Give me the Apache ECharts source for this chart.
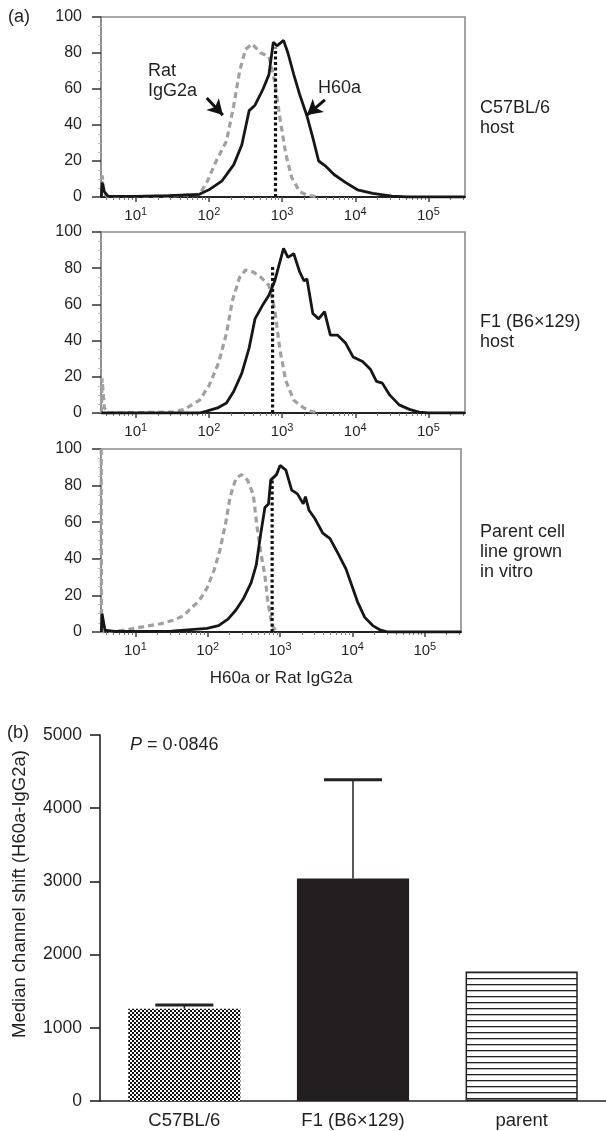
<!DOCTYPE html>
<html><head><meta charset="utf-8">
<script src="https://cdn.jsdelivr.net/npm/echarts@6/dist/echarts.min.js"></script>
<style>html,body{margin:0;padding:0;background:#fff}#c{width:606px;height:1131px}</style>
</head><body><div id="c"></div>
<script>
// ---------- DATA ----------
// x values are log10(fluorescence intensity)
const xTickExps = [1, 2, 3, 4, 5];
const yTicksA = [0, 20, 40, 60, 80, 100];
const panelLabels = ['C57BL/6\nhost', 'F1 (B6\u00d7129)\nhost', 'Parent cell\nline grown\nin vitro'];

const p1H60a = [[0.53,0],[0.54,8],[0.57,3],[0.62,0.5],[1.0,0.3],[1.45,0.8],[1.87,1.5],[2.0,4],[2.18,9],[2.34,18],[2.45,29],[2.55,48],[2.63,51],[2.74,60],[2.82,68],[2.88,86],[2.93,84],[3.02,87],[3.08,80],[3.16,68],[3.24,57],[3.34,45],[3.42,33],[3.5,20],[3.6,17],[3.71,12.5],[3.87,8],[4.03,4],[4.24,2],[4.5,0.5],[4.71,0],[5.5,0]];
const p1IgG = [[0.53,0],[0.54,12],[0.57,2],[0.62,0],[1.45,0.5],[1.87,1.5],[1.97,8],[2.1,20],[2.24,31],[2.34,51],[2.42,70],[2.5,82],[2.59,85],[2.71,80],[2.82,78],[2.9,64],[2.97,44],[3.05,24],[3.13,11],[3.24,3],[3.34,1],[3.5,0]];

const p2H60a = [[0.53,0],[1.87,0],[1.97,1],[2.13,3],[2.24,5.5],[2.34,12],[2.45,22],[2.55,36],[2.63,52],[2.74,60],[2.82,65],[2.9,73],[2.96,82],[3.02,91],[3.08,86],[3.16,88],[3.24,78],[3.3,73],[3.34,74],[3.42,55],[3.5,52],[3.58,56],[3.66,43],[3.76,43],[3.87,38.5],[3.97,31],[4.1,28.5],[4.21,24],[4.29,17.5],[4.37,16.5],[4.47,10],[4.6,4.5],[4.74,2],[4.87,0.5],[5.0,0],[5.5,0]];
const p2IgG = [[0.53,0],[0.54,19],[0.57,3],[0.62,0],[1.5,0.5],[1.66,2],[1.87,7],[2.0,15],[2.13,27.5],[2.24,44],[2.32,62],[2.42,75],[2.5,79],[2.6,78],[2.71,75],[2.82,70.5],[2.9,57],[2.97,35],[3.05,18],[3.16,7],[3.29,3],[3.39,1],[3.5,0]];

const p3H60a = [[0.53,0],[0.54,10],[0.58,1],[0.7,0.3],[1.5,0.5],[1.99,2],[2.15,3.5],[2.28,7],[2.39,12],[2.49,18],[2.6,27],[2.67,36.5],[2.73,53],[2.79,68],[2.84,70],[2.87,83],[2.95,86],[3.0,91],[3.08,88.5],[3.16,77.5],[3.24,75.5],[3.32,70],[3.35,74],[3.4,66.5],[3.48,62],[3.59,54],[3.69,51],[3.8,43],[3.91,34.5],[3.99,25.5],[4.07,16.5],[4.17,8],[4.28,3.5],[4.39,1],[4.49,0],[5.5,0]];
const p3IgG = [[0.528,100],[0.532,0],[0.71,0.3],[0.92,1.5],[1.13,3],[1.35,4.5],[1.53,6.5],[1.67,9],[1.77,13],[1.88,17],[1.99,24],[2.09,34],[2.17,45],[2.25,60],[2.31,74],[2.39,84],[2.47,86],[2.55,83],[2.63,75],[2.68,58],[2.73,44],[2.79,31],[2.83,16.5],[2.89,3.5],[2.95,0.3]];

const medianExp = [2.91, 2.87, 2.89];
const medianTop = [83, 82, 84];

const barCategories = ['C57BL/6', 'F1 (B6\u00d7129)', 'parent'];
const barMeans = [1260, 3040, 1770];
const barErrUpper = [1310, 4390, null];
const barYTicks = [0, 1000, 2000, 3000, 4000, 5000];
const barYTitle = 'Median channel shift (H60a-IgG2a)';

// ---------- STYLE / LAYOUT ----------
const FONT = '"Liberation Sans", Arial, sans-serif';
const TXT = '#231f20';
const grids = [
  {left: 101, top: 17, width: 364, height: 180},
  {left: 101, top: 232, width: 364, height: 181},
  {left: 101, top: 449, width: 360, height: 183}
];
const minorExps = [];
for (let d = 0; d <= 5; d++) for (let k = 2; k <= 9; k++) {
  const v = d + Math.log10(k);
  if (v > 0.53 && v < 5.5) minorExps.push(v);
}

function pattern(type) {
  const c = document.createElement('canvas');
  const ctx = c.getContext('2d');
  if (type === 'check') {
    c.width = 4; c.height = 4;
    ctx.fillStyle = '#fff'; ctx.fillRect(0,0,4,4);
    ctx.fillStyle = '#111';
    ctx.fillRect(0,0,2,2); ctx.fillRect(2,2,2,2);
  } else {
    c.width = 6; c.height = 6;
    ctx.fillStyle = '#fff'; ctx.fillRect(0,0,6,6);
    ctx.fillStyle = '#222'; ctx.fillRect(0,0,6,1.3);
  }
  return {image: c, repeat: 'repeat'};
}

const chart = echarts.init(document.getElementById('c'), null, {renderer: 'canvas'});

const gridOpts = [], xAxes = [], yAxes = [], series = [];
const hist = [[p1H60a, p1IgG], [p2H60a, p2IgG], [p3H60a, p3IgG]];
grids.forEach((g, i) => {
  gridOpts.push(Object.assign({show: true, borderColor: '#8c8c8c', borderWidth: 1.6, backgroundColor: 'transparent'}, g));
  xAxes.push({
    type: 'value', gridIndex: i, min: 0.525, max: 5.5,
    axisLine: {show: true, onZero: false, lineStyle: {color: '#222', width: 2}},
    axisTick: {show: true, length: 5, customValues: xTickExps, lineStyle: {color: '#444', width: 1.5}},
    axisLabel: {show: true, customValues: xTickExps, margin: 9, fontSize: 15, fontFamily: FONT, color: TXT,
      lineHeight: 19, verticalAlign: 'top',
      formatter: v => '10{s|' + Math.round(v) + '}',
      rich: {s: {fontSize: 11, fontFamily: FONT, color: TXT, lineHeight: 19, verticalAlign: 'top', padding: [0,0,0,0]}}},
    splitLine: {show: false},
    name: i === 2 ? 'H60a or Rat IgG2a' : '', nameLocation: 'middle', nameGap: 38,
    nameTextStyle: {fontSize: 17, fontFamily: FONT, color: TXT}
  });
  xAxes.push({
    type: 'value', gridIndex: i, min: 0.525, max: 5.5, position: 'bottom',
    axisLine: {show: false}, axisLabel: {show: false}, splitLine: {show: false},
    axisTick: {show: true, length: 3, customValues: minorExps, lineStyle: {color: '#777', width: 1}}
  });
  yAxes.push({
    type: 'value', gridIndex: i, min: 0, max: 100, interval: 20,
    axisLine: {show: true, lineStyle: {color: '#8c8c8c', width: 1.6}},
    axisTick: {show: true, length: 9, lineStyle: {color: '#333', width: 1.5}},
    minorTick: {show: true, splitNumber: 4, length: 3, lineStyle: {color: '#bbb'}},
    axisLabel: {fontSize: 16, fontFamily: FONT, color: TXT, margin: 19},
    splitLine: {show: false}
  });
  series.push({
    type: 'line', xAxisIndex: 2*i, yAxisIndex: i, data: hist[i][1], showSymbol: false,
    lineStyle: {color: '#a0a0a0', width: 3.2, type: [6, 4]}, silent: true, z: 2
  });
  series.push({
    type: 'line', xAxisIndex: 2*i, yAxisIndex: i, data: hist[i][0], showSymbol: false,
    lineStyle: {color: '#161616', width: 2.8}, silent: true, z: 3
  });
  series.push({
    type: 'line', xAxisIndex: 2*i, yAxisIndex: i,
    data: [[medianExp[i], 0], [medianExp[i], medianTop[i]]], showSymbol: false,
    lineStyle: {color: '#111', width: 3.2, type: [3, 2.5]}, silent: true, z: 4
  });
});

// arrows in panel 1 (data coords)
const arrowRat = [[1.97, 55], [2.19, 45.5]];
const arrowH60 = [[3.585, 54], [3.34, 45.5]];
series.push({
  type: 'line', xAxisIndex: 0, yAxisIndex: 0, data: [], silent: true,
  markLine: {silent: true, symbol: ['none', 'arrow'], symbolSize: [13, 15], label: {show: false},
    lineStyle: {color: '#111', width: 3, type: 'solid'},
    data: [[{coord: arrowRat[0]}, {coord: arrowRat[1]}], [{coord: arrowH60[0]}, {coord: arrowH60[1]}]]}
});

// bar chart
gridOpts.push({left: 100, top: 735, right: 0, bottom: 30, show: false});
xAxes.push({
  type: 'category', gridIndex: 3, data: barCategories,
  axisLine: {lineStyle: {color: '#222', width: 1.6}},
  axisTick: {show: false},
  axisLabel: {fontSize: 18.5, fontFamily: FONT, color: TXT, margin: 10}
});
yAxes.push({
  type: 'value', gridIndex: 3, min: 0, max: 5000, interval: 1000,
  axisLine: {show: true, lineStyle: {color: '#222', width: 1.6}},
  axisTick: {show: true, length: 10, lineStyle: {color: '#222', width: 1.6}},
  axisLabel: {fontSize: 17.5, fontFamily: FONT, color: TXT, margin: 18, formatter: v => String(v)},
  splitLine: {show: false}
});
const barFills = [pattern('check'), '#231f20', pattern('stripe')];
series.push({
  type: 'bar', xAxisIndex: 6, yAxisIndex: 3, barWidth: '66.5%',
  data: barMeans.map((v, i) => ({value: v, itemStyle: {color: barFills[i], borderColor: i === 2 ? '#222' : 'transparent', borderWidth: i === 2 ? 1.5 : 0}})),
  silent: true, z: 2
});
series.push({
  type: 'custom', xAxisIndex: 6, yAxisIndex: 3, silent: true, z: 3,
  data: barErrUpper.map((u, i) => [i, barMeans[i], u]),
  renderItem: (params, api) => {
    if (api.value(2) == null || isNaN(api.value(2))) return null;
    const lo = api.coord([api.value(0), api.value(1)]);
    const hi = api.coord([api.value(0), api.value(2)]);
    const hw = 29;
    return {type: 'group', children: [
      {type: 'line', shape: {x1: lo[0], y1: lo[1], x2: hi[0], y2: hi[1]}, style: {stroke: '#222', lineWidth: 1.5}},
      {type: 'line', shape: {x1: hi[0]-hw, y1: hi[1], x2: hi[0]+hw, y2: hi[1]}, style: {stroke: '#222', lineWidth: 3}}
    ]};
  }
});

const ts = (extra) => Object.assign({fontSize: 18, fontFamily: FONT, fill: TXT, lineHeight: 20}, extra);
const graphics = [
  {type: 'text', left: 8, top: 7, style: ts({text: '(a)'})},
  {type: 'text', left: 7, top: 723, style: ts({text: '(b)'})},
  {type: 'text', left: 148, top: 61, style: ts({text: 'Rat\nIgG2a'})},
  {type: 'text', left: 318, top: 78.5, style: ts({text: 'H60a'})},
  {type: 'text', left: 480, top: 98.5, style: ts({text: panelLabels[0]})},
  {type: 'text', left: 480, top: 312.5, style: ts({text: panelLabels[1]})},
  {type: 'text', left: 480, top: 522.5, style: ts({text: panelLabels[2]})},
  {type: 'text', left: 130, top: 735, style: ts({text: '{i|P} = 0\u00b70846',
    rich: {i: {fontStyle: 'italic', fontSize: 18, fontFamily: FONT, fill: TXT, lineHeight: 20}}})},
  {type: 'text', x: 20, y: 894, rotation: Math.PI / 2,
    style: ts({text: barYTitle, fontSize: 18.5, align: 'center', verticalAlign: 'middle'})}
];

chart.setOption({
  animation: false,
  backgroundColor: '#fff',
  textStyle: {fontFamily: FONT},
  grid: gridOpts, xAxis: xAxes, yAxis: yAxes, series: series, graphic: graphics
});
</script></body></html>
